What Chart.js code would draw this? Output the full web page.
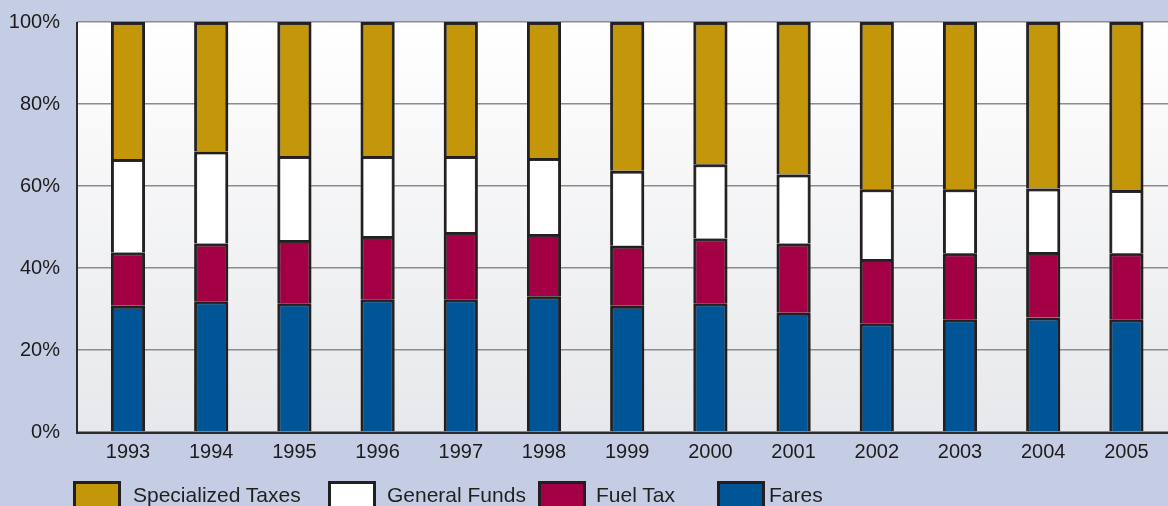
<!DOCTYPE html>
<html>
<head>
<meta charset="utf-8">
<script src="https://cdn.jsdelivr.net/npm/chart.js@4/dist/chart.umd.min.js"></script>
<style>
  html, body { margin: 0; padding: 0; background: #c5cde4; overflow: hidden; }
  #wrap { position: relative; width: 1168px; height: 506px; overflow: hidden; }
  #grafico { position: absolute; left: 0; top: 0; }
  .leg-box { position: absolute; top: 481px; width: 42px; height: 30px; border: 3px solid #231f20; }
  .leg-txt { position: absolute; top: 482px; font: 21px "Liberation Sans", Arial, sans-serif; color: #231f20; line-height: 26px; white-space: nowrap; }
</style>
</head>
<body>
<div id="wrap">
  <canvas id="grafico" width="1168" height="506"></canvas>
</div>
<script>
// Dados (participação % de cada fonte por ano)
const anos = ['1993', '1994', '1995', '1996', '1997', '1998', '1999', '2000', '2001', '2002', '2003', '2004', '2005'];
const fares = [30.8, 31.9, 31.4, 32.4, 32.4, 33.1, 30.8, 31.4, 29.1, 26.5, 27.5, 27.9, 27.5];
const fuelTax = [13.0, 14.1, 15.4, 15.4, 16.4, 15.2, 14.6, 15.8, 16.9, 15.7, 16.1, 16.0, 16.1];
const generalFunds = [22.8, 22.4, 20.5, 19.5, 18.5, 18.5, 18.3, 18.1, 16.8, 17.0, 15.6, 15.5, 15.4];
const specializedTaxes = [33.4, 31.6, 32.7, 32.7, 32.7, 33.2, 36.3, 34.7, 37.2, 40.8, 40.8, 40.6, 41.0];
const yTicks = [0, 20, 40, 60, 80, 100];

// Cores
const cores = {
    fares: '#005596',
    fuel: '#a30046',
    general: '#ffffff',
    special: '#c4960a'
};

// Fundo da área do gráfico (gradiente) e bordas
const fundoPlot = {
    id: 'fundoPlot',
    beforeDraw(chart) {
        const { ctx, chartArea } = chart;
        const esquerda = 77;
        const grad = ctx.createLinearGradient(0, chartArea.top, 0, chartArea.bottom);
        grad.addColorStop(0, '#ffffff');
        grad.addColorStop(1, '#e7e8eb');
        ctx.save();
        ctx.fillStyle = grad;
        ctx.fillRect(esquerda, chartArea.top, chartArea.right - esquerda, chartArea.bottom - chartArea.top);
        ctx.restore();
    },
    beforeDatasetsDraw(chart) {
        // leve halo cinza em volta das barras
        chart.ctx.save();
        chart.ctx.shadowColor = 'rgba(90,90,90,0.6)';
        chart.ctx.shadowBlur = 2;
    },
    afterDatasetsDraw(chart) {
        const { ctx, chartArea } = chart;
        ctx.restore();
        ctx.save();
        ctx.strokeStyle = '#2b2b2b';
        ctx.lineWidth = 2;
        ctx.beginPath();
        ctx.moveTo(77, chartArea.top);
        ctx.lineTo(77, chartArea.bottom + 1);
        ctx.lineTo(chartArea.right, chartArea.bottom + 1);
        ctx.stroke();
        ctx.restore();
    }
};

const fonte = { family: '"Liberation Sans", Arial, sans-serif', size: 20 };

function serie(label, data, cor) {
    return {
        label: label,
        data: data,
        backgroundColor: cor,
        borderColor: '#231f20',
        borderWidth: 3,
        barPercentage: 0.41,
        categoryPercentage: 1
    };
}

const canvas = document.getElementById('grafico');
const grafico = new Chart(canvas, {
    type: 'bar',
    data: {
        labels: anos,
        datasets: [
            serie('Fares', fares, cores.fares),
            serie('Fuel Tax', fuelTax, cores.fuel),
            serie('General Funds', generalFunds, cores.general),
            serie('Specialized Taxes', specializedTaxes, cores.special)
        ]
    },
    options: {
        responsive: false,
        animation: false,
        layout: { padding: { top: 22, right: 0, left: 0, bottom: 0 } },
        plugins: {
            legend: { display: false },
            tooltip: { enabled: false }
        },
        scales: {
            x: {
                stacked: true,
                grid: { display: false, drawTicks: false },
                border: { display: false },
                ticks: { font: fonte, color: '#1e1b1c', padding: 8, maxRotation: 0, autoSkip: false },
                afterFit(scale) {
                    scale.height = 74;
                    scale.paddingLeft = 0;
                    scale.paddingRight = 0;
                }
            },
            y: {
                stacked: true,
                min: 0,
                max: 100,
                afterBuildTicks(scale) { scale.ticks = yTicks.map(v => ({ value: v })); },
                grid: { color: '#8c8c8c', lineWidth: 1.5, tickLength: 9.4, drawTicks: true },
                border: { display: false },
                ticks: {
                    font: fonte,
                    color: '#1e1b1c',
                    padding: 17,
                    callback: v => v + '%'
                },
                afterFit(scale) {
                    scale.width = 86.4;
                    scale.paddingTop = 0;
                    scale.paddingBottom = 0;
                }
            }
        }
    },
    plugins: [fundoPlot]
});

// Legenda (ordem invertida, como no original)
const legenda = [
    { label: 'Specialized Taxes', cor: cores.special, caixa: 73, texto: 133 },
    { label: 'General Funds', cor: cores.general, caixa: 328, texto: 387 },
    { label: 'Fuel Tax', cor: cores.fuel, caixa: 538, texto: 596 },
    { label: 'Fares', cor: cores.fares, caixa: 717, texto: 769 }
];
const wrap = document.getElementById('wrap');
legenda.forEach(item => {
    const caixa = document.createElement('div');
    caixa.className = 'leg-box';
    caixa.style.left = item.caixa + 'px';
    caixa.style.background = item.cor;
    wrap.appendChild(caixa);
    const txt = document.createElement('div');
    txt.className = 'leg-txt';
    txt.style.left = item.texto + 'px';
    txt.textContent = item.label;
    wrap.appendChild(txt);
});
</script>
</body>
</html>
